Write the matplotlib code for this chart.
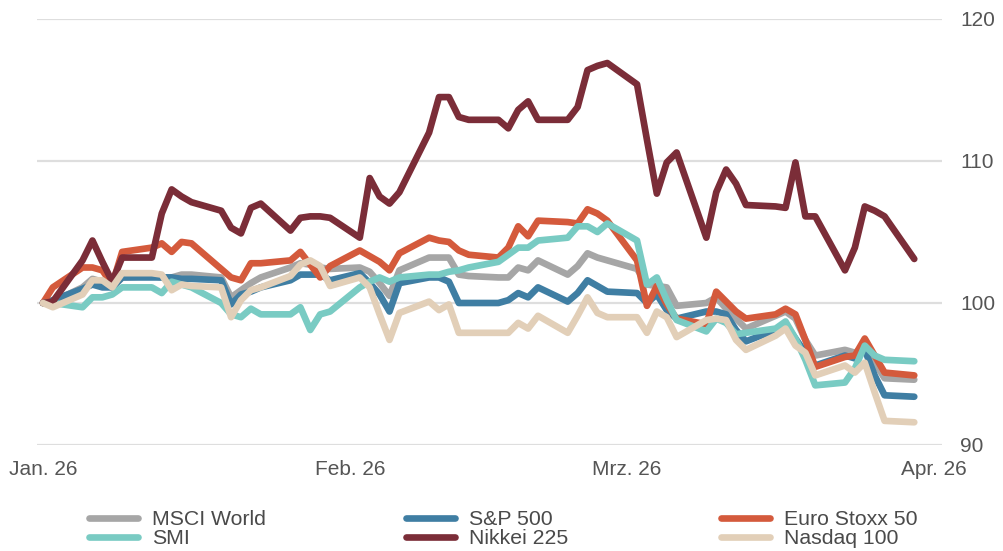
import matplotlib
matplotlib.use("Agg")
import matplotlib.pyplot as plt
import matplotlib.dates as mdates
import pandas as pd
import numpy as np

plt.rcParams['font.family'] = ['Liberation Sans', 'DejaVu Sans']

# trading days (common calendar)
dates = pd.bdate_range("2026-01-01", "2026-03-30")

msci_world = [100.0, 100.1, 101.1, 101.7, 101.5, 101.1, 101.8, 101.9, 101.8, 101.8, 102.0, 102.0, 101.8, 100.4, 100.9, 101.4, 101.8, 102.5, 102.8, 102.7, 102.5, 102.4,
              102.5, 102.2, 101.4, 100.5, 102.3, 103.2, 103.2, 103.2, 102.0, 101.9, 101.8, 101.8, 102.5, 102.3, 103.0, 102.0, 102.6, 103.5, 103.2, 103.0,
              102.4, 101.3, 101.2, 101.1, 99.8, 100.0, 100.4, 99.6, 98.9, 98.2, 99.1, 99.4, 98.9, 97.4, 96.3, 96.7, 96.5, 96.9, 95.8, 94.7, 94.6]
sp500 = [100.0, 100.2, 101.0, 101.3, 101.1, 101.1, 101.8, 101.8, 101.8, 101.8, 101.7, 101.7, 101.6, 99.9, 100.6, 100.8, 101.1, 101.6, 102.0, 102.0, 102.0, 101.6,
         102.1, 101.4, 100.6, 99.4, 101.4, 101.8, 101.8, 101.5, 100.0, 100.0, 100.0, 100.2, 100.7, 100.4, 101.1, 100.1, 100.7, 101.6, 101.2, 100.8,
         100.7, 100.0, 100.6, 99.5, 98.9, 99.4, 99.4, 99.2, 98.1, 97.3, 98.1, 98.5, 97.5, 96.5, 95.6, 96.3, 96.1, 96.7, 94.9, 93.5, 93.4]
eurostoxx50 = [100.0, 101.1, 102.5, 102.5, 102.3, 101.3, 103.6, 103.9, 104.2, 103.6, 104.3, 104.2, 102.4, 101.8, 101.6, 102.8, 102.8, 103.0, 103.6, 102.7, 101.8, 102.6,
               103.7, 103.3, 102.9, 102.3, 103.5, 104.6, 104.4, 104.3, 103.7, 103.4, 103.2, 103.9, 105.4, 104.7, 105.8, 105.7, 105.6, 106.6, 106.3, 105.8,
               103.0, 99.8, 101.2, 99.9, 98.9, 98.5, 100.8, 100.1, 99.4, 98.9, 99.2, 99.6, 99.2, 97.4, 95.5, 96.2, 96.3, 97.5, 96.3, 95.1, 94.9]
smi = [100.0, 100.0, 99.7, 100.4, 100.4, 100.6, 101.1, 101.1, 100.7, 101.5, 101.3, 101.1, 100.0, 99.2, 99.0, 99.6, 99.2, 99.2, 99.7, 98.1, 99.2, 99.4,
       101.1, 101.5, 101.8, 101.5, 101.8, 102.0, 102.0, 102.2, 102.3, 102.5, 102.9, 103.4, 103.9, 103.9, 104.4, 104.6, 105.4, 105.4, 105.0, 105.6,
       104.4, 101.3, 101.8, 100.2, 98.8, 98.0, 98.9, 98.6, 97.8, 97.9, 98.2, 98.7, 97.5, 96.0, 94.2, 94.4, 95.4, 97.0, 96.3, 96.0, 95.9]
nikkei225 = [100.0, 100.1, 103.0, 104.4, 102.9, 101.5, 103.2, 103.2, 106.3, 108.0, 107.5, 107.1, 106.5, 105.3, 104.9, 106.7, 107.0, 105.1, 106.0, 106.1, 106.1, 106.0,
             104.6, 108.8, 107.5, 107.0, 107.8, 112.0, 114.5, 114.5, 113.1, 112.9, 112.9, 112.3, 113.6, 114.2, 112.9, 112.9, 113.8, 116.4, 116.7, 116.9,
             115.4, 111.5, 107.7, 109.9, 110.6, 104.6, 107.8, 109.4, 108.4, 106.9, 106.8, 106.7, 109.9, 106.1, 106.1, 102.3, 103.9, 106.8, 106.5, 106.1, 103.1]
nasdaq100 = [100.0, 99.7, 100.6, 101.6, 101.6, 101.1, 102.1, 102.1, 102.0, 100.9, 101.3, 101.2, 101.1, 99.0, 100.2, 100.9, 101.1, 101.9, 102.7, 103.0, 102.6, 101.2,
             101.8, 101.1, 99.2, 97.4, 99.3, 100.1, 99.5, 99.9, 97.9, 97.9, 97.9, 97.9, 98.6, 98.2, 99.1, 97.9, 99.1, 100.4, 99.3, 99.0,
             99.0, 97.9, 99.4, 99.0, 97.6, 98.8, 98.9, 98.8, 97.4, 96.7, 97.7, 98.2, 97.0, 96.5, 94.9, 95.6, 95.1, 95.8, 93.7, 91.7, 91.6]

series_names = ["MSCI World", "S&P 500", "Euro Stoxx 50", "SMI", "Nikkei 225", "Nasdaq 100"]
series_values = [msci_world, sp500, eurostoxx50, smi, nikkei225, nasdaq100]
colors = ["#a6a6a6", "#3f7ea3", "#d45a3c", "#79cbc3", "#7b2d38", "#e2cfb8"]

tick_dates = pd.to_datetime(["2026-01-01", "2026-02-01", "2026-03-01", "2026-04-01"])
tick_labels = ["Jan. 26", "Feb. 26", "Mrz. 26", "Apr. 26"]
y_ticks = [90, 100, 110, 120]

W, H = 1004, 551
fig = plt.figure(figsize=(W / 100, H / 100), dpi=100)
ax = fig.add_axes([37 / W, 1 - 445 / H, (942 - 37) / W, (445 - 19) / H])

handles = []
for name, vals, c in zip(series_names, series_values, colors):
    h, = ax.plot(dates, vals, color=c, lw=4.8, solid_capstyle='round',
                 solid_joinstyle='round', label=name, zorder=3)
    handles.append(h)

x0 = mdates.date2num(pd.Timestamp("2026-01-01"))
ax.set_xlim(x0 - 0.6, x0 + 90.8)
ax.set_ylim(90, 120)
ax.set_yticks(y_ticks)
ax.set_xticks(mdates.date2num(tick_dates))
ax.set_xticklabels(tick_labels)
ax.yaxis.tick_right()
ax.grid(axis='y', color='#dedede', lw=1.6, zorder=0)
ax.grid(axis='x', visible=False)
for s in ax.spines.values():
    s.set_visible(False)
ax.tick_params(axis='y', length=0, pad=13, labelsize=15, labelcolor='#555555')
ax.tick_params(axis='x', length=0, pad=11, labelsize=15, labelcolor='#555555')

# legend: three columns placed at fixed positions
col_x = [89, 406, 721]
for i, cx in enumerate(col_x):
    hs = [handles[i], handles[i + 3]]
    leg = fig.legend(handles=hs, labels=[h.get_label() for h in hs],
                     loc='center left', bbox_to_anchor=(cx / W, 1 - 529 / H),
                     frameon=False, fontsize=15.3, labelspacing=0.0,
                     handlelength=2.3, handletextpad=0.65, borderpad=0,
                     borderaxespad=0)
    for t in leg.get_texts():
        t.set_color('#4a4a4a')

fig.savefig("out.png", dpi=100)
